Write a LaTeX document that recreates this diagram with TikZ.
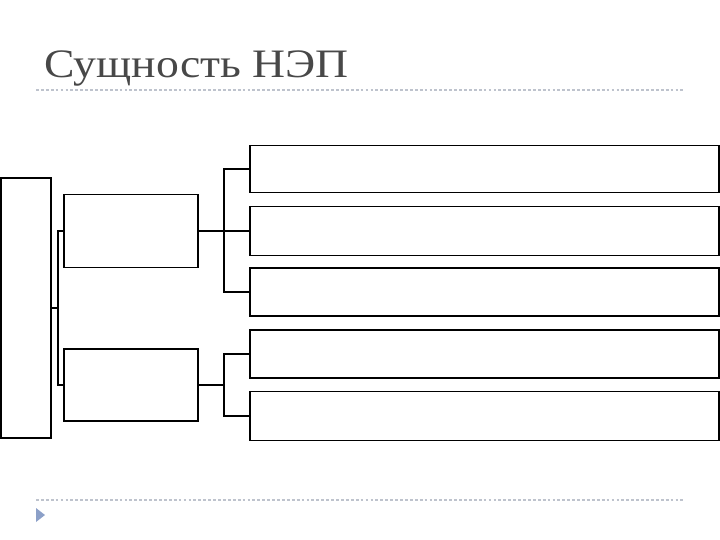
\documentclass[tikz,border=0pt]{standalone}
\usepackage{fontspec}
\setmainfont{Liberation Serif}
\newfontfamily\titlefont{Liberation Serif}[FakeStretch=1.13]
\usepackage{xcolor}
\usetikzlibrary{positioning, calc}

\definecolor{titlegray}{RGB}{72,72,72}
\definecolor{rulegray}{RGB}{190,195,205}
\definecolor{bulletblue}{RGB}{140,160,200}

\tikzset{
    box/.style={draw=black, line width=1.1pt, fill=white, inner sep=0pt},
    wire/.style={line width=1.4pt}
}

\begin{document}
\begin{tikzpicture}[x=0.02cm, y=-0.02cm]

    % --- Page frame ---
    \useasboundingbox (0,0) rectangle (720,540);

    % --- Title and rules ---
    \node[anchor=base west, inner sep=0pt, text=titlegray,
          font=\titlefont\fontsize{23}{28}\selectfont] (title) at (44,78) {Сущность НЭП};
    \coordinate (rtl) at (36,90);
    \coordinate (rtr) at (684,90);
    \coordinate (rbl) at (36,500);
    \coordinate (rbr) at (684,500);
    \draw[rulegray, line width=0.6pt, dash pattern=on 1.6pt off 1.2pt] (rtl) -- (rtr);
    \draw[rulegray, line width=0.6pt, dash pattern=on 1.6pt off 1.2pt] (rbl) -- (rbr);
    \fill[bulletblue] (36,508) -- (36,522) -- (45,515) -- cycle;

    % --- Connectors ---
    \coordinate (j0) at (58,308);
    \coordinate (j1) at (224,231);
    \coordinate (j2) at (224,385);

    % --- Left column ---
    \node[box, minimum width=1.0cm, minimum height=5.2cm] (root) at (26,308) {};

    % --- Middle column ---
    \node[box, minimum width=2.68cm, minimum height=1.46cm] (mid1) at (131,231) {};
    \node[box, minimum width=2.68cm, minimum height=1.44cm] (mid2) at (131,385) {};

    % --- Right column ---
    \node[box, minimum width=9.38cm, minimum height=0.94cm] (r1) at (484.5,169) {};
    \node[box, minimum width=9.38cm, minimum height=0.98cm] (r2) at (484.5,231) {};
    \node[box, minimum width=9.38cm, minimum height=0.96cm] (r3) at (484.5,292) {};
    \node[box, minimum width=9.38cm, minimum height=0.96cm] (r4) at (484.5,354) {};
    \node[box, minimum width=9.38cm, minimum height=0.98cm] (r5) at (484.5,416) {};

    \draw[wire] (root.east) -- (j0);
    \draw[wire] (mid1.west) -| (j0) |- (mid2.west);

    \draw[wire] (mid1.east) -- (j1);
    \draw[wire] (r1.west) -| (j1) |- (r3.west);
    \draw[wire] (j1) -- (r2.west);

    \draw[wire] (mid2.east) -- (j2);
    \draw[wire] (r4.west) -| (j2) |- (r5.west);

\end{tikzpicture}
\end{document}
